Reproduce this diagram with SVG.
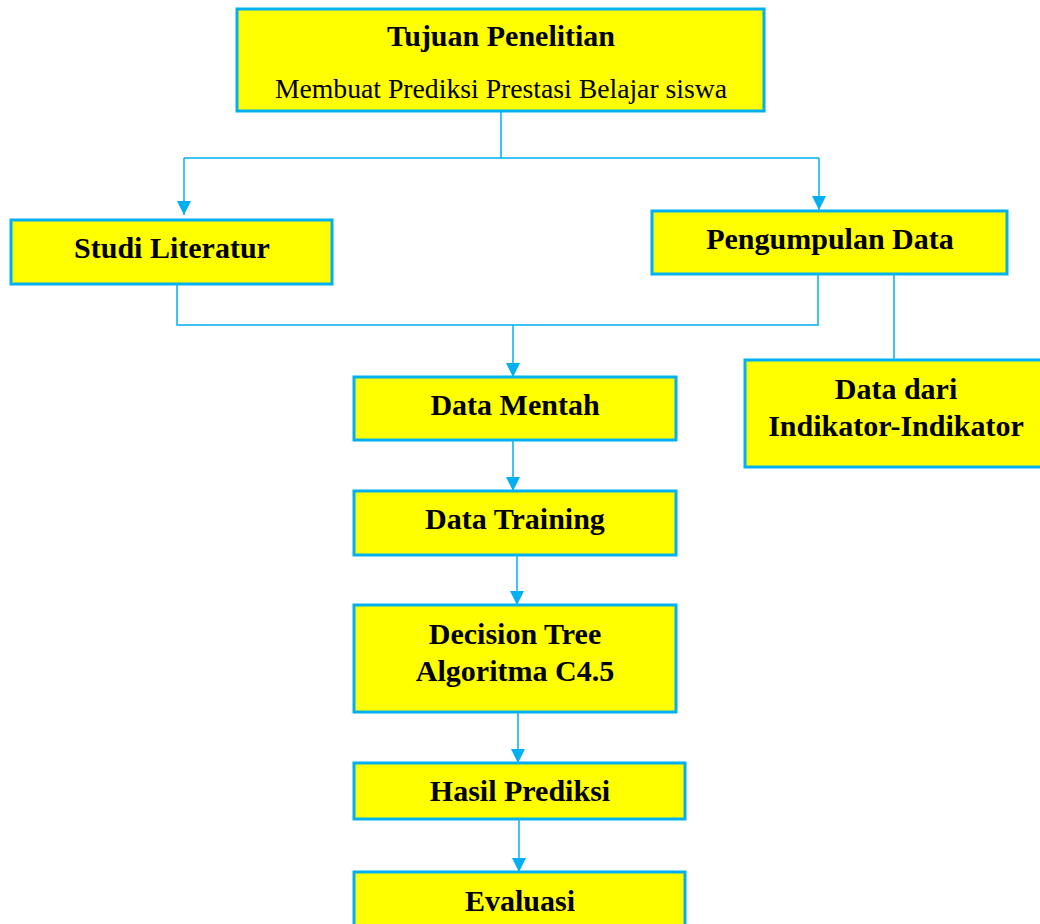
<svg xmlns="http://www.w3.org/2000/svg" width="1040" height="924" viewBox="0 0 1040 924">
<style>
.box{fill:#FFFF00;stroke:#00B0F0;stroke-width:3}
.t{font-family:"Liberation Serif","Times New Roman",serif;font-size:30px;font-weight:bold;text-anchor:middle;fill:#000}
.r{font-family:"Liberation Serif","Times New Roman",serif;font-size:27.7px;text-anchor:middle;fill:#000}
.c{fill:none;stroke:#00B0F0;stroke-width:1.5}
</style>
<defs>
<marker id="a" markerWidth="14" markerHeight="14" refX="14" refY="7" orient="auto" markerUnits="userSpaceOnUse" viewBox="0 0 14 14">
<path d="M0,0 L14,7 L0,14 Z" fill="#00B0F0"/>
</marker>
</defs>
<rect width="1040" height="924" fill="#fff"/>
<g id="connectors">
<path class="c" d="M501,111 V158 M184,158 H819"/>
<path class="c" d="M184,158 V215" marker-end="url(#a)"/>
<path class="c" d="M819,158 V210" marker-end="url(#a)"/>
<path class="c" d="M177,284 V325 H818 V274"/>
<path class="c" d="M513,325 V377" marker-end="url(#a)"/>
<path class="c" d="M894,274 V360"/>
<path class="c" d="M513,440 V491" marker-end="url(#a)"/>
<path class="c" d="M517,555 V605" marker-end="url(#a)"/>
<path class="c" d="M518,712 V763" marker-end="url(#a)"/>
<path class="c" d="M519,819 V872" marker-end="url(#a)"/>
</g>
<g id="tujuan">
<rect class="box" x="237" y="9" width="527" height="102"/>
<text class="t" x="501" y="46">Tujuan Penelitian</text>
<text class="r" x="501" y="98">Membuat Prediksi Prestasi Belajar siswa</text>
</g>
<g id="studi">
<rect class="box" x="11" y="220" width="321" height="64"/>
<text class="t" x="172" y="258">Studi Literatur</text>
</g>
<g id="pengumpulan">
<rect class="box" x="652" y="211" width="355" height="63"/>
<text class="t" x="830" y="249">Pengumpulan Data</text>
</g>
<g id="indikator">
<rect class="box" x="745" y="360" width="300" height="107"/>
<text class="t" x="896" y="399">Data dari</text>
<text class="t" x="896" y="436">Indikator-Indikator</text>
</g>
<g id="mentah">
<rect class="box" x="354" y="377" width="322" height="63"/>
<text class="t" x="515" y="415">Data Mentah</text>
</g>
<g id="training">
<rect class="box" x="354" y="491" width="322" height="64"/>
<text class="t" x="515" y="529">Data Training</text>
</g>
<g id="decision">
<rect class="box" x="354" y="605" width="322" height="107"/>
<text class="t" x="515" y="644">Decision Tree</text>
<text class="t" x="515" y="681">Algoritma C4.5</text>
</g>
<g id="hasil">
<rect class="box" x="354" y="763" width="331" height="56"/>
<text class="t" x="520" y="801">Hasil Prediksi</text>
</g>
<g id="evaluasi">
<rect class="box" x="354" y="872" width="331" height="60"/>
<text class="t" x="520" y="911">Evaluasi</text>
</g>
</svg>
